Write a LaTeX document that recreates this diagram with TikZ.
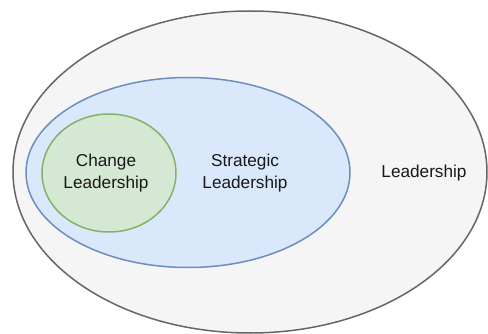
\documentclass[tikz,border=0pt]{standalone}
\usepackage{fontspec}
\setmainfont{Liberation Sans}
\usetikzlibrary{shapes.geometric}

\definecolor{outerfill}{HTML}{F5F5F5}
\definecolor{outerline}{HTML}{666666}
\definecolor{bluefill}{HTML}{DAE8FC}
\definecolor{blueline}{HTML}{6C8EBF}
\definecolor{greenfill}{HTML}{D5E8D4}
\definecolor{greenline}{HTML}{82B366}

\begin{document}
\begin{tikzpicture}[x=1pt,y=-1pt,
    set/.style={ellipse,line width=1.5pt,inner sep=0pt,outer sep=0pt},
    setlabel/.style={align=center,font=\fontsize{17.2}{21.5}\selectfont,text=black!90}]
  \useasboundingbox (0,0) rectangle (488,334);
  % nested sets, largest first
  \node[set,draw=outerline,fill=outerfill,minimum width=474pt,minimum height=322pt]
    (lead) at (250,172) {};
  \node[set,draw=blueline,fill=bluefill,minimum width=324pt,minimum height=190pt]
    (strat) at (188,172.5) {};
  \node[set,draw=greenline,fill=greenfill,minimum width=134pt,minimum height=118pt]
    (change) at (109,173) {};
  % labels
  \node[setlabel] (changetxt) at (106,173) {Change\\Leadership};
  \node[setlabel] (strattxt) at (245,173) {Strategic\\Leadership};
  \node[setlabel] (leadtxt) at (424,173) {Leadership};
\end{tikzpicture}
\end{document}
